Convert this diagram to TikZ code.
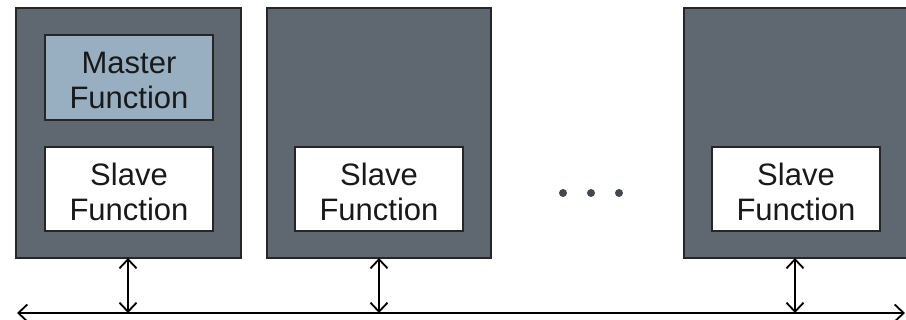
\documentclass[tikz,border=0pt]{standalone}
\usepackage{fontspec}
\setmainfont{Liberation Sans}
\usetikzlibrary{arrows.meta}
\definecolor{boxgray}{RGB}{95,103,112}
\definecolor{masterblue}{RGB}{151,175,192}
\tikzset{
  unit/.style={draw=black!85, line width=1.8pt, fill=boxgray},
  func/.style={draw=black!85, line width=1.4pt, minimum width=168pt, minimum height=84pt, inner sep=0pt},
  functext/.style={align=center, font=\fontsize{31}{35}\selectfont, inner sep=0pt, text=black!90},
  link/.style={line width=1.8pt, {Straight Barb[length=9pt,width=17pt,line width=1.8pt]}-{Straight Barb[length=9pt,width=17pt,line width=1.8pt]}},
}
\begin{document}
\begin{tikzpicture}[x=1pt,y=-1pt]
\useasboundingbox (0,0) rectangle (906,320);
\draw[unit] (16,8) rectangle (241,258);
\draw[unit] (267,8) rectangle (491,258);
\draw[unit] (684,8) rectangle (908,258);
\node[func, fill=masterblue, minimum height=85pt] (m1) at (129,77.5) {};
\node[func, fill=white] (s1) at (129,189) {};
\node[func, fill=white] (s2) at (379,189) {};
\node[func, fill=white] (s3) at (796,189) {};
\node[functext] (m1t) at ([yshift=-3pt]m1.center) {Master\\Function};
\node[functext] (s1t) at ([yshift=-3pt]s1.center) {Slave\\Function};
\node[functext] (s2t) at ([yshift=-3pt]s2.center) {Slave\\Function};
\node[functext] (s3t) at ([yshift=-3pt]s3.center) {Slave\\Function};
\fill[boxgray!70!black] (563,193) circle (4pt) (591,193) circle (4pt) (619,193) circle (4pt);
\coordinate (bl) at (17,313);
\coordinate (br) at (905,313);
\coordinate (u1) at (128,258);
\coordinate (u2) at (379,258);
\coordinate (u3) at (795,258);
\coordinate (d1) at (128,313);
\coordinate (d2) at (379,313);
\coordinate (d3) at (795,313);
\draw[link] (bl) -- (br);
\draw[link] (u1) -- (d1);
\draw[link] (u2) -- (d2);
\draw[link] (u3) -- (d3);
\end{tikzpicture}
\end{document}
